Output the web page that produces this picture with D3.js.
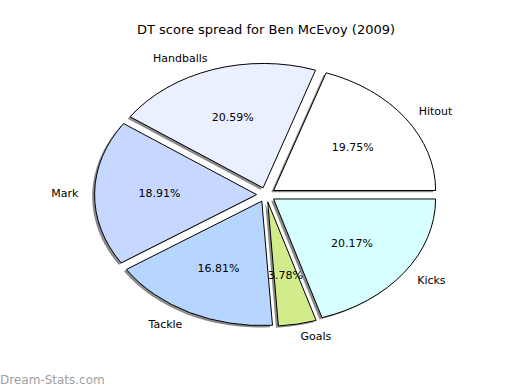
<!DOCTYPE html>
<html>
<head>
<meta charset="utf-8">
<script src="https://cdn.jsdelivr.net/npm/d3@7"></script>
<style>
  body { margin: 0; background: #fff; }
  text { font-family: "DejaVu Sans", sans-serif; }
</style>
</head>
<body>
<div class="chart-container"></div>
<script>
// Data
const categories = ['Hitout', 'Handballs', 'Mark', 'Tackle', 'Goals', 'Kicks'];
const percents = [19.75, 20.59, 18.91, 16.81, 3.78, 20.17];
const colors = ['#ffffff', '#eaf0ff', '#c6d8ff', '#b6d6ff', '#d2ec8c', '#d8ffff'];

// Layout: the pie is an ellipse (non-square axes)
const width = 520, height = 390;
const cx = 266, cy = 194.7, rx = 162, ry = 124.4;
const explode = 0.058;
const shadowOff = 0.015;

const svg = d3.select('.chart-container')
    .append('svg')
    .attr('width', width)
    .attr('height', height);

// Title
svg.append('text')
    .attr('x', 266)
    .attr('y', 34)
    .attr('text-anchor', 'middle')
    .style('font-size', '13px')
    .text('DT score spread for Ben McEvoy (2009)');

// Counter-clockwise from 3 o'clock, like matplotlib
const pie = d3.pie()
    .sort(null)
    .startAngle(Math.PI / 2)
    .endAngle(Math.PI / 2 - 2 * Math.PI)
    .value(d => d.value);

const data = categories.map((c, i) => ({ name: c, value: percents[i], color: colors[i] }));
const arcs = pie(data);
const arc = d3.arc().innerRadius(0).outerRadius(1);

const mid = d => (d.startAngle + d.endAngle) / 2;

const pieG = svg.append('g')
    .attr('transform', `translate(${cx},${cy}) scale(${rx},${ry})`);

// Shadows behind every wedge
pieG.selectAll('path.shadow')
    .data(arcs)
    .enter()
    .append('path')
    .attr('class', 'shadow')
    .attr('transform', d => `translate(${explode * Math.sin(mid(d)) - shadowOff},${-explode * Math.cos(mid(d)) + shadowOff})`)
    .attr('d', arc)
    .attr('fill', '#8a8a8a')
    .attr('stroke', 'none');

// Wedges
pieG.selectAll('path.wedge')
    .data(arcs)
    .enter()
    .append('path')
    .attr('class', 'wedge')
    .attr('transform', d => `translate(${explode * Math.sin(mid(d))},${-explode * Math.cos(mid(d))})`)
    .attr('d', arc)
    .attr('fill', d => d.data.color)
    .attr('stroke', '#000')
    .attr('stroke-width', 1)
    .attr('stroke-linejoin', 'round')
    .attr('vector-effect', 'non-scaling-stroke');

// Category labels at 1.1 radius, percent labels at 0.6 radius
const pos = (d, r) => [
    cx + rx * (r + explode) * Math.sin(mid(d)),
    cy - ry * (r + explode) * Math.cos(mid(d))
];

svg.append('g')
    .selectAll('text')
    .data(arcs)
    .enter()
    .append('text')
    .attr('x', d => pos(d, 1.1)[0])
    .attr('y', d => pos(d, 1.1)[1])
    .attr('dy', '0.35em')
    .attr('text-anchor', d => Math.sin(mid(d)) > 0 ? 'start' : 'end')
    .style('font-size', '11px')
    .text(d => d.data.name);

svg.append('g')
    .selectAll('text')
    .data(arcs)
    .enter()
    .append('text')
    .attr('x', d => pos(d, 0.6)[0])
    .attr('y', d => pos(d, 0.6)[1])
    .attr('dy', '0.35em')
    .attr('text-anchor', 'middle')
    .style('font-size', '11px')
    .text(d => d.data.value.toFixed(2) + '%');

// Watermark
svg.append('text')
    .attr('x', 0)
    .attr('y', 384)
    .style('font-size', '12px')
    .attr('fill', '#a0a0a0')
    .text('Dream-Stats.com');
</script>
</body>
</html>
